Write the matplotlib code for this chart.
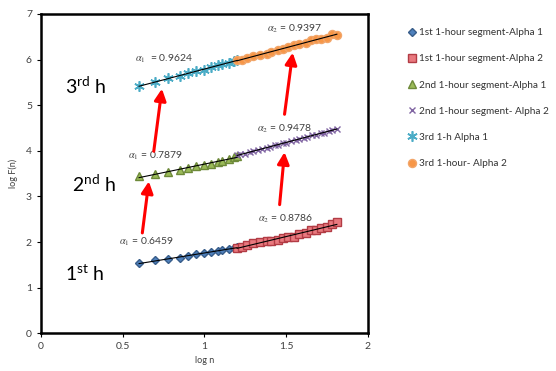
import matplotlib
matplotlib.use("Agg")
import matplotlib.pyplot as plt
import numpy as np

plt.rcParams["font.family"] = ["Lato", "DejaVu Sans"]
plt.rcParams["mathtext.fontset"] = "custom"
plt.rcParams["mathtext.rm"] = "Lato"
plt.rcParams["mathtext.it"] = "Lato:italic"

# log n values
logn_a1 = [0.60, 0.70, 0.78, 0.85, 0.90, 0.95, 1.00, 1.04, 1.08, 1.11, 1.15, 1.18, 1.20]
logn_a2 = [1.20, 1.23, 1.26, 1.30, 1.34, 1.38, 1.41, 1.45, 1.48, 1.51, 1.55, 1.58,
           1.62, 1.65, 1.68, 1.71, 1.75, 1.78, 1.81]
logn_a2_dense = [1.20, 1.22, 1.25, 1.28, 1.30, 1.33, 1.35, 1.38, 1.40, 1.43, 1.45, 1.48, 1.50,
                 1.53, 1.56, 1.58, 1.61, 1.63, 1.66, 1.68, 1.71, 1.73, 1.76, 1.78, 1.81]

# log F(n) values
h1_alpha1 = [1.53, 1.60, 1.63, 1.66, 1.70, 1.74, 1.75, 1.78, 1.80, 1.82, 1.85, 1.87, 1.89]
h1_alpha2 = [1.88, 1.90, 1.94, 1.97, 1.99, 2.02, 2.03, 2.04, 2.09, 2.11, 2.12, 2.17,
             2.20, 2.26, 2.27, 2.30, 2.33, 2.39, 2.44]
h2_alpha1 = [3.44, 3.49, 3.54, 3.58, 3.62, 3.67, 3.69, 3.72, 3.76, 3.78, 3.82, 3.86, 3.89]
h2_alpha2 = [3.90, 3.92, 3.94, 3.98, 3.99, 4.02, 4.04, 4.07, 4.08, 4.12, 4.13, 4.17, 4.18,
             4.21, 4.24, 4.25, 4.29, 4.31, 4.34, 4.35, 4.39, 4.40, 4.43, 4.45, 4.47]
h3_alpha1 = [5.42, 5.50, 5.59, 5.64, 5.70, 5.75, 5.78, 5.83, 5.87, 5.90, 5.93, 5.96, 5.98]
h3_alpha2 = [5.98, 6.00, 6.04, 6.07, 6.10, 6.13, 6.17, 6.20, 6.24, 6.27, 6.31, 6.34,
             6.37, 6.42, 6.44, 6.45, 6.48, 6.55, 6.54]

labels = ["1st 1-hour segment-Alpha 1", "1st 1-hour segment-Alpha 2",
          "2nd 1-hour segment-Alpha 1", "2nd 1-hour segment- Alpha 2",
          "3rd 1-h Alpha 1", "3rd 1-hour- Alpha 2"]

alpha_texts = [(0.48, 2.00, r"$\alpha_1$ = 0.6459"), (1.33, 2.51, r"$\alpha_2$ = 0.8786"),
               (0.53, 3.89, r"$\alpha_1$ = 0.7879"), (1.32, 4.49, r"$\alpha_2$ = 0.9478"),
               (0.575, 6.01, r"$\alpha_1$  = 0.9624"), (1.38, 6.68, r"$\alpha_2$ = 0.9397")]
hour_texts = [(0.15, 1.30, r"1$^{\rm st}$ h"), (0.19, 3.27, r"2$^{\rm nd}$ h"),
              (0.15, 5.42, r"3$^{\rm rd}$ h")]
# arrows: (tail x, tail y, head x, head y)
arrows = [(0.62, 2.20, 0.66, 3.33), (0.69, 3.99, 0.74, 5.36),
          (1.46, 2.82, 1.49, 3.97), (1.49, 4.80, 1.54, 6.15)]

fig = plt.figure(figsize=(5.56, 3.71), dpi=100)
ax = fig.add_axes([0.0737, 0.1016, 0.588, 0.861])

series = [
    (logn_a1, h1_alpha1, dict(marker="D", ms=3.8, mfc="#4F81BD", mec="#385D8A")),
    (logn_a2, h1_alpha2, dict(marker="s", ms=5.2, mfc="#E9797F", mec="#B23C45")),
    (logn_a1, h2_alpha1, dict(marker="^", ms=5.2, mfc="#9BBB59", mec="#6E8A3A")),
    (logn_a2_dense, h2_alpha2, dict(marker="x", ms=4.8, mfc="none", mec="#8064A2", mew=1.0)),
    (logn_a1, h3_alpha1, dict(marker=(6, 2, 0), ms=7.5, mfc="none", mec="#4BACC6", mew=1.2)),
    (logn_a2, h3_alpha2, dict(marker="o", ms=5.8, mfc="#F79646", mec="#F2A66A")),
]

for (x, y, style), lab in zip(series, labels):
    ax.plot(x, y, ls="none", label=lab, zorder=3, **style)
    k, b = np.polyfit(x, y, 1)
    xs = np.array([x[0], x[-1]])
    ax.plot(xs, k * xs + b, color="black", lw=0.8, zorder=4)

for tx, ty, s in alpha_texts:
    ax.text(tx, ty, s, fontsize=7.5, color="#404040", va="center", math_fontfamily="stix")
for tx, ty, s in hour_texts:
    ax.text(tx, ty, s, fontsize=14, color="black", va="center")
for x0, y0, x1, y1 in arrows:
    ax.annotate("", xy=(x1, y1), xytext=(x0, y0),
                arrowprops=dict(arrowstyle="-|>,head_length=0.7,head_width=0.35",
                                color="#FF0000", lw=2.2, shrinkA=0, shrinkB=0))

ax.set_xlim(0, 2)
ax.set_ylim(0, 7)
ax.set_xticks([0, 0.5, 1, 1.5, 2])
ax.set_xticklabels(["0", "0.5", "1", "1.5", "2"])
ax.set_yticks(range(8))
ax.tick_params(labelsize=7.5, labelcolor="#404040", length=3, width=0.8, direction="out")
for sp in ax.spines.values():
    sp.set_linewidth(1.8)
ax.set_xlabel("log n", fontsize=6.5, color="#404040", labelpad=3)
ax.set_ylabel("log F(n)", fontsize=6.5, color="#404040", labelpad=6)

fig.legend(loc="upper left", bbox_to_anchor=(0.726, 0.935), frameon=False,
           fontsize=7.2, labelspacing=1.72, handlelength=0.8, handletextpad=0.3,
           borderaxespad=0, labelcolor="#333333")

fig.savefig("out.png", dpi=100)
